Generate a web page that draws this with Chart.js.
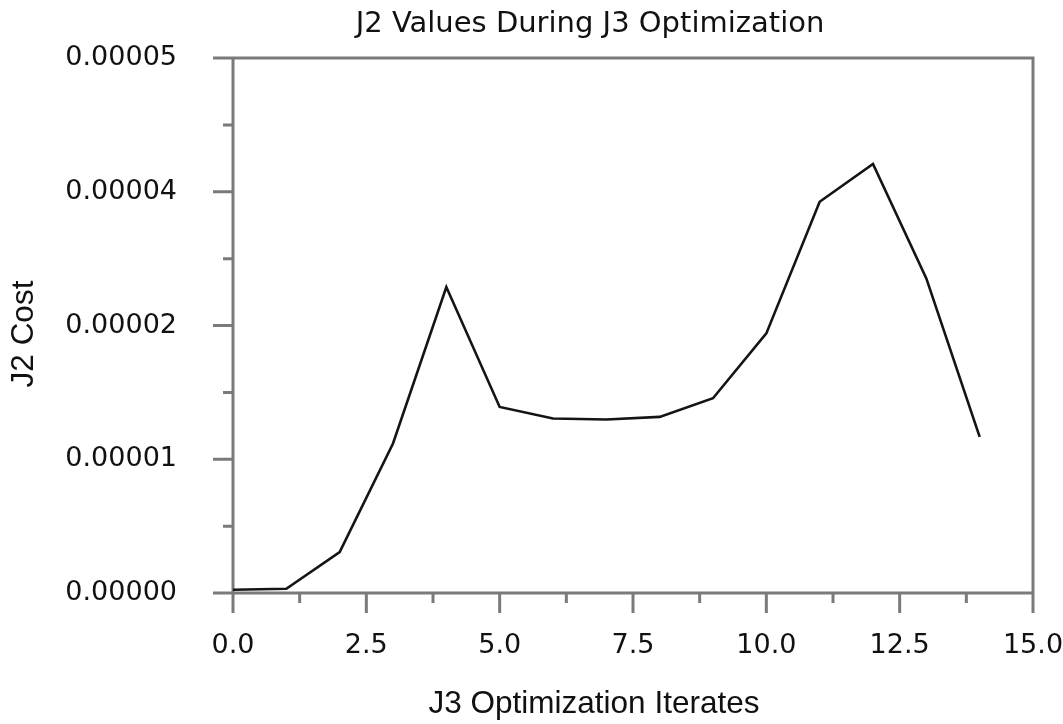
<!DOCTYPE html>
<html>
<head>
<meta charset="utf-8">
<title>J2 Values During J3 Optimization</title>
<script src="https://cdn.jsdelivr.net/npm/chart.js@4.4.1/dist/chart.umd.min.js"></script>
<style>
  html, body { margin: 0; padding: 0; background: #fff; }
  canvas { display: block; }
</style>
</head>
<body>
<canvas id="chart" width="1063" height="724"></canvas>
<script>
const iterates = [0, 1, 2, 3, 4, 5, 6, 7, 8, 9, 10, 11, 12, 13, 14];
const j2Cost = [
  3.0e-7, 4.0e-7, 3.83e-6, 1.397e-5, 2.86e-5, 1.739e-5, 1.631e-5, 1.622e-5,
  1.646e-5, 1.82e-5, 2.426e-5, 3.656e-5, 4.01e-5, 2.94e-5, 1.459e-5,
];
const xTickLabels = ["0.0", "2.5", "5.0", "7.5", "10.0", "12.5", "15.0"];
const yTickLabels = ["0.00000", "0.00001", "0.00002", "0.00004", "0.00005"];

const chartTitle = "J2 Values During J3 Optimization";
const xTitle = "J3 Optimization Iterates";
const yTitle = "J2 Cost";

const AXIS_COLOR = "#7a7a7a";
const TEXT_COLOR = "#111";
const WIDE_FONT = "'DejaVu Sans', sans-serif";
const LABEL_FONT = "'Liberation Sans', Arial, sans-serif";

// box around the plot plus outward tick marks (long = major, short = minor)
const framePlugin = {
  id: "frame",
  beforeDatasetsDraw(chart) {
    const { ctx, chartArea: a, scales: { x, y } } = chart;
    const major = 20;
    const minor = 10;

    ctx.save();
    ctx.strokeStyle = AXIS_COLOR;
    ctx.lineWidth = 3;
    ctx.beginPath();
    ctx.rect(a.left, a.top, a.right - a.left, a.bottom - a.top);

    const xs = x.ticks.map((t) => t.value);
    xs.forEach((v, i) => {
      const px = x.getPixelForValue(v);
      ctx.moveTo(px, a.bottom);
      ctx.lineTo(px, a.bottom + major);
      if (i < xs.length - 1) {
        const mx = x.getPixelForValue((v + xs[i + 1]) / 2);
        ctx.moveTo(mx, a.bottom);
        ctx.lineTo(mx, a.bottom + minor);
      }
    });

    const ys = y.ticks.map((t) => t.value);
    ys.forEach((v, i) => {
      const py = y.getPixelForValue(v);
      ctx.moveTo(a.left, py);
      ctx.lineTo(a.left - major, py);
      if (i < ys.length - 1) {
        const my = y.getPixelForValue((v + ys[i + 1]) / 2);
        ctx.moveTo(a.left, my);
        ctx.lineTo(a.left - minor, my);
      }
    });
    ctx.stroke();
    ctx.restore();
  },
};

// chart title and axis titles sit centred on the figure, not the plot box
const titlesPlugin = {
  id: "titles",
  afterDraw(chart) {
    const { ctx } = chart;
    ctx.save();
    ctx.fillStyle = TEXT_COLOR;
    ctx.textAlign = "center";
    ctx.textBaseline = "middle";

    ctx.font = `29px ${WIDE_FONT}`;
    ctx.fillText(chartTitle, 590, 24);

    ctx.font = `31.5px ${LABEL_FONT}`;
    ctx.fillText(xTitle, 594, 704);

    ctx.translate(24, 334);
    ctx.rotate(-Math.PI / 2);
    ctx.fillText(yTitle, 0, 0);
    ctx.restore();
  },
};

const tickFont = { family: WIDE_FONT, size: 27 };

new Chart(document.getElementById("chart"), {
  type: "line",
  data: {
    datasets: [{
      label: "J2 Cost",
      data: iterates.map((it, i) => ({ x: it, y: j2Cost[i] })),
      borderColor: "#141414",
      borderWidth: 2.6,
      pointRadius: 0,
      tension: 0,
      fill: false,
    }],
  },
  options: {
    responsive: false,
    animation: false,
    layout: { padding: { top: 58, right: 30, bottom: 0, left: 0 } },
    plugins: {
      legend: { display: false },
      tooltip: { enabled: false },
    },
    scales: {
      x: {
        type: "linear",
        min: 0,
        max: 15,
        // fixed axis height; labels may hang past the ends
        afterFit: (scale) => {
          scale.height = 131;
          scale.paddingLeft = 0;
          scale.paddingRight = 0;
        },
        grid: { display: false, drawTicks: false },
        border: { display: false },
        ticks: {
          stepSize: 2.5,
          padding: 37,
          maxRotation: 0,
          autoSkip: false,
          color: TEXT_COLOR,
          font: tickFont,
          callback: (value, index) => xTickLabels[index],
        },
      },
      y: {
        type: "linear",
        min: 0,
        max: 0.00005,
        afterFit: (scale) => {
          scale.width = 233;
          scale.paddingTop = 0;
          scale.paddingBottom = 0;
        },
        grid: { display: false, drawTicks: false },
        border: { display: false },
        ticks: {
          stepSize: 0.0000125,
          padding: 56,
          autoSkip: false,
          color: TEXT_COLOR,
          font: tickFont,
          callback: (value, index) => yTickLabels[index],
        },
      },
    },
  },
  plugins: [framePlugin, titlesPlugin],
});
</script>
</body>
</html>
